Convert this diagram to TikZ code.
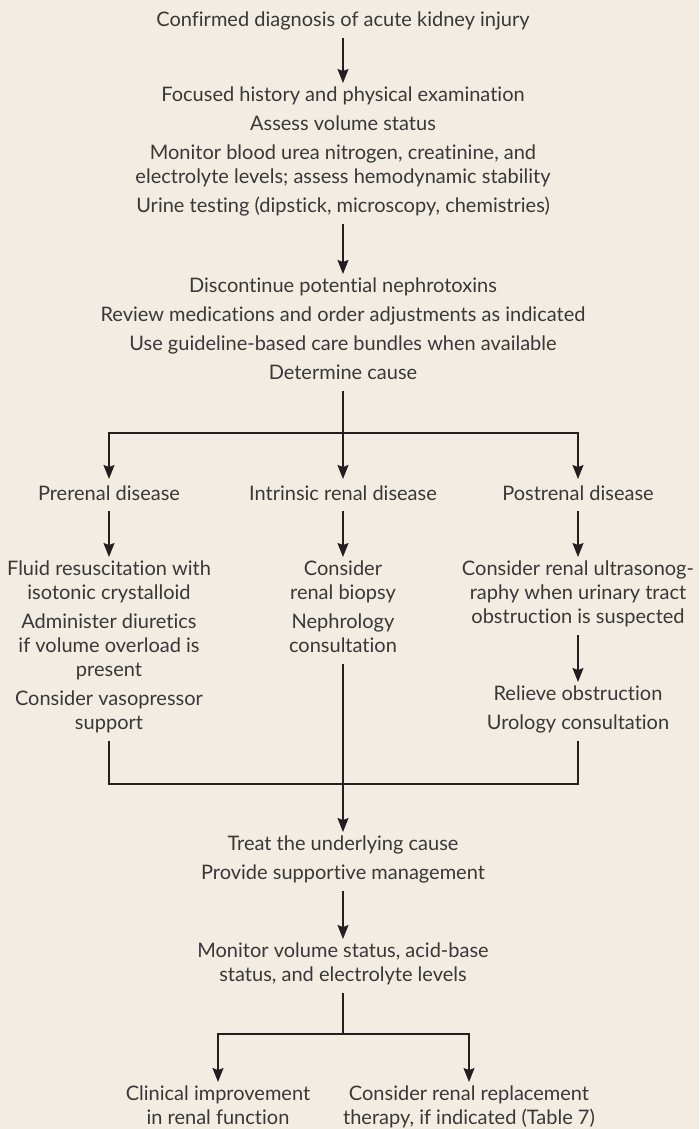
\documentclass[tikz,border=0pt]{standalone}
\usepackage{fontspec}
\setmainfont{Lato}[Ligatures=NoCommon]
\usetikzlibrary{arrows.meta}
\definecolor{paper}{HTML}{F3ECE2}
\definecolor{ink}{HTML}{383838}
\definecolor{rule}{HTML}{231F20}

\begin{document}
\begin{tikzpicture}[x=1pt,y=-1pt,
    txt/.style={align=center,anchor=north,inner xsep=0pt,inner ysep=4pt,text=ink,
      font=\fontsize{20pt}{24pt}\selectfont,
      execute at begin node=\strut,execute at end node=\strut},
    link/.style={draw=rule,line width=1.2pt},
    arr/.style={link,-{Stealth[length=14pt,width=11pt,inset=2pt]}}]
  \useasboundingbox[fill=paper] (0,0) rectangle (699,1129);
  % top of the chart
  \node[txt] (diag) at (343,6) {Confirmed diagnosis of acute kidney injury};
  \node[txt] (assess) at (343,83) {Focused history and physical examination\\[5pt]
    Assess volume status\\[5pt]
    Monitor blood urea nitrogen, creatinine, and\\
    electrolyte levels; assess hemodynamic stability\\[5pt]
    Urine testing (dipstick, microscopy, chemistries)};
  \node[txt] (meds) at (343,274) {Discontinue potential nephrotoxins\\[5pt]
    Review medications and order adjustments as indicated\\[5pt]
    Use guideline-based care bundles when available\\[5pt]
    Determine cause};
  % the three causes
  \node[txt] (pre) at (109,479) {Prerenal disease};
  \node[txt] (intr) at (343,479) {Intrinsic renal disease};
  \node[txt] (post) at (578,479) {Postrenal disease};
  \node[txt] (preTx) at (109,557) {Fluid resuscitation with\\isotonic crystalloid\\[5pt]
    Administer diuretics\\if volume overload is\\present\\[5pt]
    Consider vasopressor\\support};
  \node[txt] (intrTx) at (343,557) {Consider\\renal biopsy\\[5pt]Nephrology\\consultation};
  \node[txt] (postTx) at (578,557) {Consider renal ultrasonog-\\raphy when urinary tract\\obstruction is suspected};
  \node[txt] (relieve) at (578,682) {Relieve obstruction\\[5pt]Urology consultation};
  % common part
  \node[txt] (treat) at (343,832) {Treat the underlying cause\\[5pt]Provide supportive management};
  \node[txt] (monitor) at (343,939) {Monitor volume status, acid-base\\status, and electrolyte levels};
  \node[txt] (improve) at (218,1082) {Clinical improvement\\in renal function};
  \node[txt] (rrt) at (469,1082) {Consider renal replacement\\therapy, if indicated (Table 7)};
  \coordinate (split) at (343,433);
  \coordinate (join) at (343,784);
  \coordinate (fork) at (343,1034);

  \draw[arr] (diag.south) -- (assess.north);
  \draw[arr] (assess.south) -- (meds.north);
  \draw[arr] (meds.south) -- (intr.north);
  \draw[arr] (split) -| (pre.north);
  \draw[arr] (split) -| (post.north);
  \draw[arr] (pre.south) -- (preTx.north);
  \draw[arr] (intr.south) -- (intrTx.north);
  \draw[arr] (post.south) -- (postTx.north);
  \draw[arr] (postTx.south) -- (relieve.north);
  \draw[link] (preTx.south) |- (join) -| (relieve.south);
  \draw[arr] (intrTx.south) -- (treat.north);
  \draw[arr] (treat.south) -- (monitor.north);
  \draw[link] (monitor.south) -- (fork);
  \draw[arr] (fork) -| (improve.north);
  \draw[arr] (fork) -| (rrt.north);
\end{tikzpicture}
\end{document}
